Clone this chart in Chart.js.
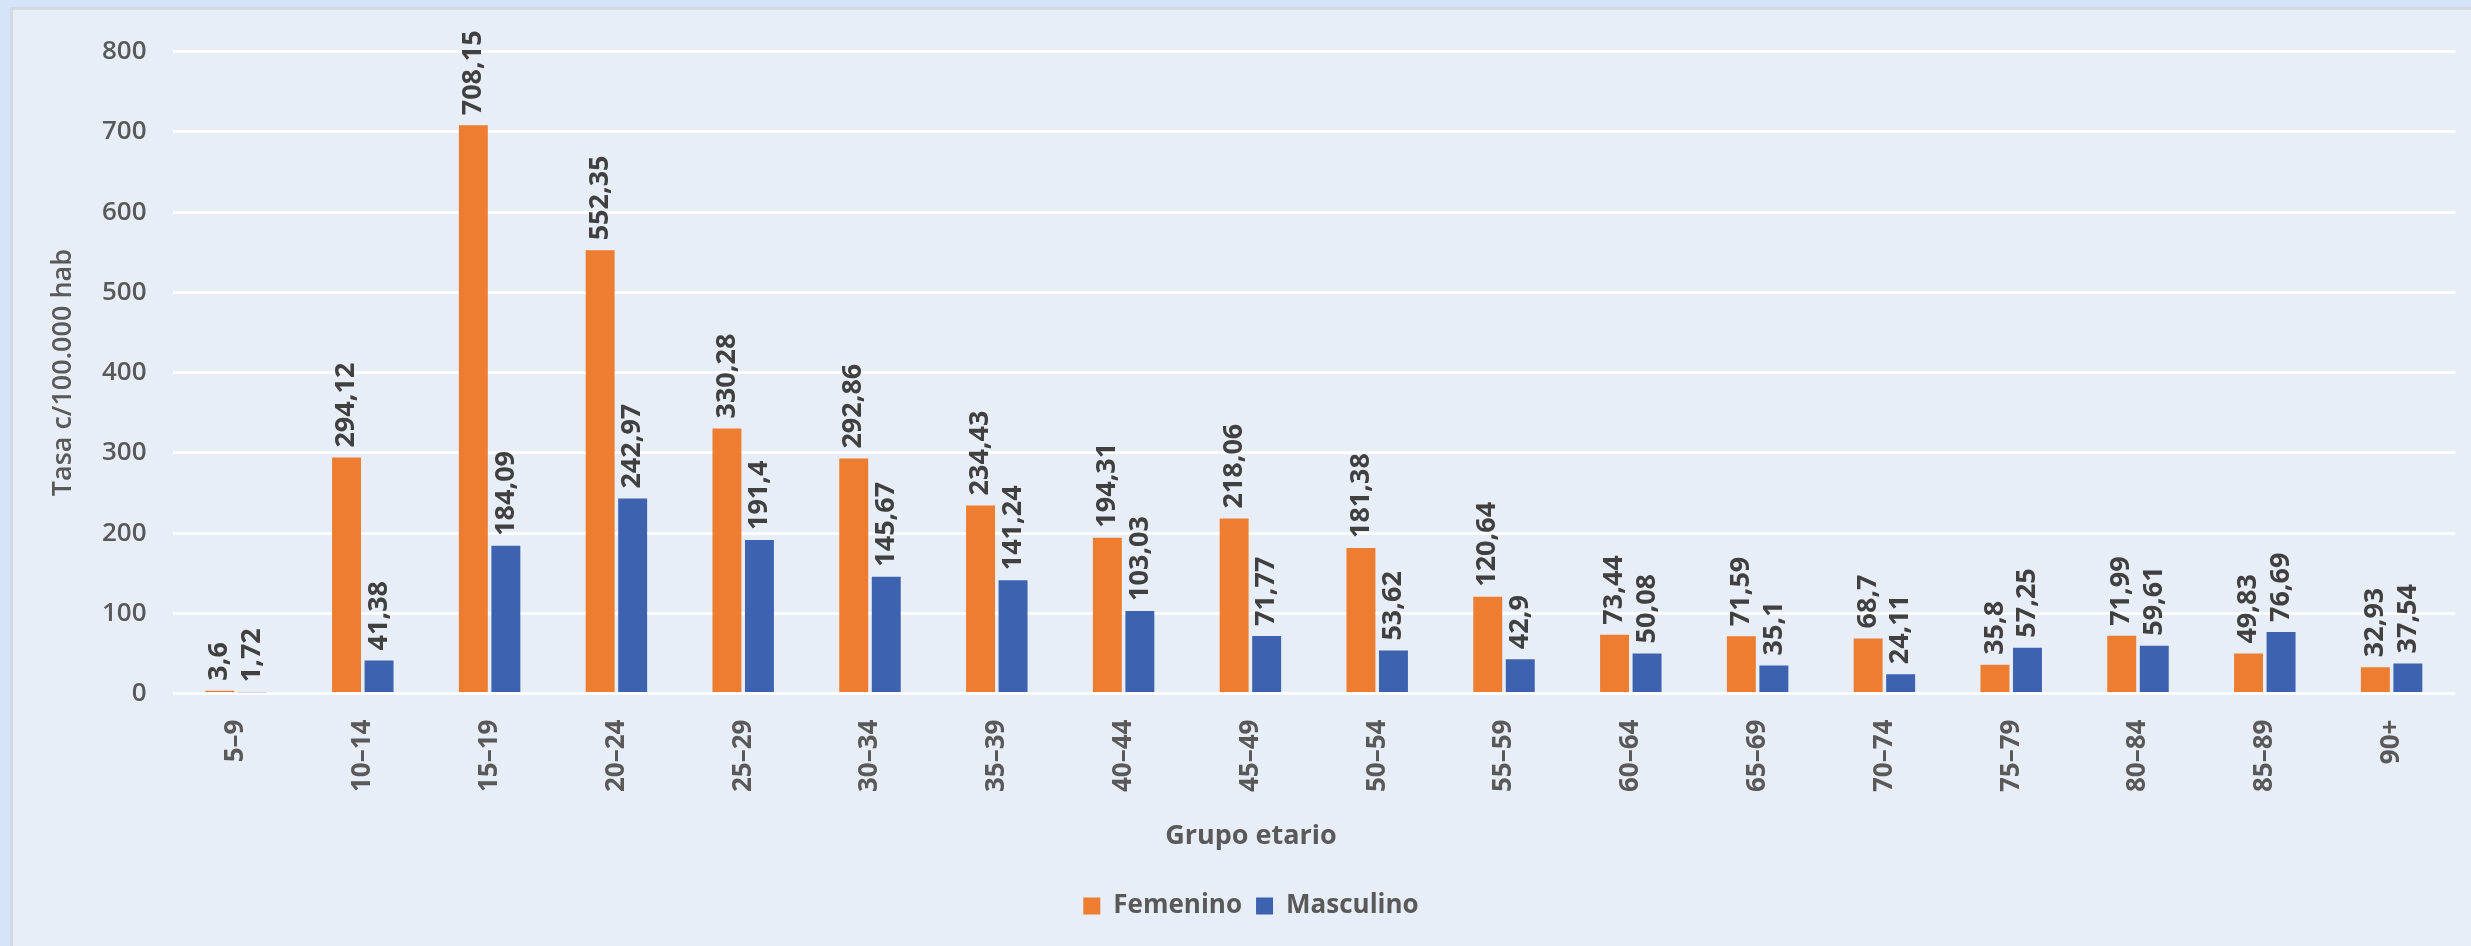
<!DOCTYPE html>
<html>
<head>
<meta charset="utf-8">
<script src="https://cdn.jsdelivr.net/npm/chart.js@4.4.1/dist/chart.umd.min.js"></script>
<style>
  html, body { margin: 0; padding: 0; background: #d5e4f9; width: 2471px; height: 946px; overflow: hidden; }
  #panel { position: absolute; left: 10px; top: 7px; width: 2461px; height: 939px;
           background: #e8eef7; border-left: 3px solid #d4d8df; border-top: 3px solid #d4d8df; }
  canvas { display: block; }
</style>
</head>
<body>
<div id="panel"><canvas id="chart" width="2458" height="936"></canvas></div>
<script>
// age groups and rates per 100.000 inhabitants
const grupos = ['5–9', '10–14', '15–19', '20–24', '25–29', '30–34', '35–39', '40–44', '45–49',
  '50–54', '55–59', '60–64', '65–69', '70–74', '75–79', '80–84', '85–89', '90+'];
const femenino = [3.6, 294.12, 708.15, 552.35, 330.28, 292.86, 234.43, 194.31, 218.06,
  181.38, 120.64, 73.44, 71.59, 68.7, 35.8, 71.99, 49.83, 32.93];
const masculino = [1.72, 41.38, 184.09, 242.97, 191.4, 145.67, 141.24, 103.03, 71.77,
  53.62, 42.9, 50.08, 35.1, 24.11, 57.25, 59.61, 76.69, 37.54];

const FONT = '"Open Sans", "Segoe UI", sans-serif';
const GRAY = '#595959';

// vertical value labels above each bar, decimal comma
const barLabels = {
  id: 'barLabels',
  afterDatasetsDraw(chart) {
    const ctx = chart.ctx;
    ctx.save();
    ctx.font = 'bold 27px ' + FONT;
    ctx.fillStyle = '#404040';
    ctx.textAlign = 'left';
    ctx.textBaseline = 'middle';
    chart.data.datasets.forEach((ds, i) => {
      chart.getDatasetMeta(i).data.forEach((bar, j) => {
        const txt = String(ds.data[j]).replace('.', ',');
        ctx.save();
        ctx.translate(bar.x, bar.y - 10);
        ctx.rotate(-Math.PI / 2);
        ctx.fillText(txt, 0, 0);
        ctx.restore();
      });
    });
    ctx.restore();
  }
};

new Chart(document.getElementById('chart'), {
  type: 'bar',
  data: {
    labels: grupos,
    datasets: [
      { label: 'Femenino', data: femenino, backgroundColor: '#ed7d31' },
      { label: 'Masculino', data: masculino, backgroundColor: '#3c62b0' }
    ]
  },
  options: {
    responsive: false,
    animation: false,
    categoryPercentage: 0.513,
    barPercentage: 0.89,
    layout: { padding: { left: 34, right: 16, top: 32, bottom: 17 } },
    scales: {
      x: {
        grid: { display: false },
        border: { display: false },
        ticks: {
          color: GRAY, font: { family: FONT, size: 26, weight: 'bold' },
          minRotation: 90, maxRotation: 90, autoSkip: false, padding: 18
        },
        afterFit(s) { s.height = 120; }
      },
      y: {
        min: 0, max: 800,
        border: { display: false },
        grid: { color: '#ffffff', lineWidth: 3, drawTicks: false },
        ticks: { stepSize: 100, color: GRAY, font: { family: FONT, size: 26, weight: '600' }, padding: 26 },
        title: { display: true, text: 'Tasa c/100.000 hab', color: GRAY,
                 font: { family: FONT, size: 27, weight: '600' }, padding: 0 },
        afterFit(s) { s.width = 125.6; }
      }
    },
    plugins: {
      title: {
        display: true, position: 'bottom', weight: 500, text: 'Grupo etario', color: GRAY,
        font: { family: FONT, size: 27, weight: 'bold' }, padding: { top: 7, bottom: 26 }
      },
      legend: {
        position: 'bottom',
        labels: { color: GRAY, font: { family: FONT, size: 26, weight: 'bold' },
                  boxWidth: 17, boxHeight: 17, padding: 14 }
      },
      tooltip: { enabled: false }
    }
  },
  plugins: [barLabels]
});
</script>
</body>
</html>
